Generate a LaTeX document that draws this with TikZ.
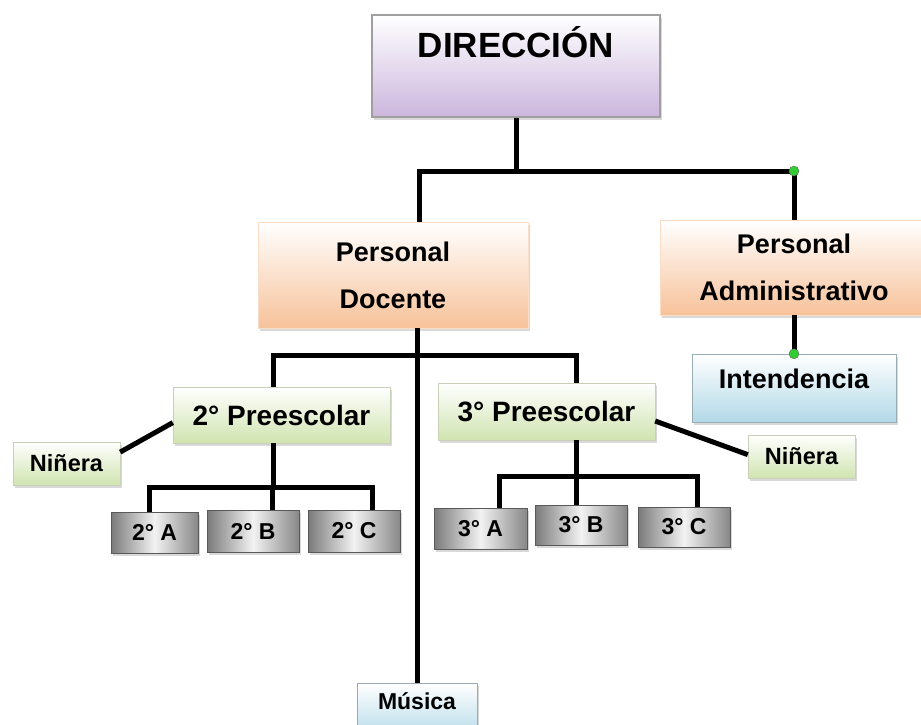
\documentclass[tikz,border=0pt]{standalone}
\usepackage{fontspec}
\setmainfont{Liberation Sans}
\usetikzlibrary{shadows}

\definecolor{lila}{HTML}{CBB6DD}
\definecolor{durazno}{HTML}{F7C29A}
\definecolor{verde}{HTML}{D0E4B0}
\definecolor{celeste}{HTML}{B2D9E8}
\definecolor{gris}{HTML}{7A7A7A}
\definecolor{punto}{HTML}{33CC33}

\tikzset{
    box/.style={rectangle, inner sep=0pt, align=center, font=\bfseries,
        drop shadow={shadow xshift=2pt, shadow yshift=-3pt, opacity=0.3}},
    sz/.style 2 args={minimum width=#1pt, minimum height=#2pt},
    raise/.style={text height=0pt, text depth=#1pt},
    dirbox/.style={box, draw=gray!75, line width=1.2pt, top color=white, bottom color=lila,
        font=\bfseries\fontsize{35}{40}\selectfont},
    perbox/.style={box, draw=durazno!55!white, top color=white, bottom color=durazno,
        font=\bfseries\fontsize{27}{47}\selectfont},
    prebox/.style={box, draw=verde!60!gray!70, top color=white, bottom color=verde,
        font=\bfseries\fontsize{28}{32}\selectfont},
    ninbox/.style={prebox, font=\bfseries\fontsize{23.5}{26}\selectfont},
    bluebox/.style={box, draw=celeste!50!gray, top color=white, bottom color=celeste,
        font=\bfseries\fontsize{27}{30}\selectfont},
    grupo/.style={box, draw=gray!70!black, left color=gris, right color=gris!90, middle color=gray!10,
        font=\bfseries\fontsize{23}{26}\selectfont},
    wire/.style={line width=5pt, black, line join=miter},
    dot/.style={fill=punto, draw=black!60, line width=0.4pt}
}

\begin{document}
\begin{tikzpicture}[x=1pt, y=-1pt]
    \clip (0,0) rectangle (921,724);

    \node [dirbox, sz={288}{102}, raise=17] (dir) at (516,66) {DIRECCIÓN};

    \node [perbox, sz={270}{106}] (doc) at (393,275) {Personal\\Docente};
    \node [perbox, sz={268}{95}]  (adm) at (794,267.5) {Personal\\Administrativo};
    \node [bluebox, sz={204}{68}, raise=0] (int) at (794,388) {Intendencia};

    \node [prebox, sz={217}{56}] (pre2) at (281.5,415) {2° Preescolar};
    \node [prebox, sz={217}{57}] (pre3) at (546.5,411.5) {3° Preescolar};
    \node [ninbox, sz={107}{43}] (nin2a) at (66.5,463.5) {Niñera};
    \node [ninbox, sz={107}{43}] (nin3a) at (801.5,456.5) {Niñera};

    \node [grupo, sz={87}{41}] (a2) at (154.5,532.5) {2° A};
    \node [grupo, sz={92}{42}] (b2) at (253,531) {2° B};
    \node [grupo, sz={92}{42}] (c2) at (354,531) {2° C};
    \node [grupo, sz={93}{41}] (a3) at (480.5,528.5) {3° A};
    \node [grupo, sz={92}{40}] (b3) at (581,525) {3° B};
    \node [grupo, sz={92}{40}] (c3) at (684,527) {3° C};

    \node [bluebox, sz={120}{57}, raise=5, font=\bfseries\fontsize{23}{26}\selectfont] (mus) at (417,711.5) {Música};

    \coordinate (busA) at (419,171);
    \coordinate (dotA) at (794,171);
    \coordinate (busL) at (273,355);
    \coordinate (busR) at (576,355);
    \coordinate (grp2) at (273,487);
    \coordinate (grp3) at (576,476);

    \draw [wire] (dir.south) -- (dir.south |- busA);
    \draw [wire] (busA |- doc.north) -- (busA) -- (dotA) -- (adm.north);
    \draw [wire] (adm.south) -- (int.north);
    \draw [wire] (mus.north |- doc.south) -- (mus.north);
    \draw [wire] (busL |- pre2.north) -- (busL) -- (busR) -- (busR |- pre3.north);
    \draw [wire] (nin2a.12) -- (pre2.184);
    \draw [wire] (pre3.-5) -- (nin3a.178);

    \draw [wire] (grp2 |- pre2.south) -- (grp2);
    \draw [wire] (149,487 |- a2.north) -- (149,487) -- (372,487) -- (372,487 |- c2.north);
    \draw [wire] (272,487) -- (272,487 |- b2.north);

    \draw [wire] (grp3 |- pre3.south) -- (grp3);
    \draw [wire] (499,476 |- a3.north) -- (499,476) -- (697,476) -- (697,476 |- c3.north);
    \draw [wire] (576,476) -- (576,476 |- b3.north);

    \draw [dot] (dotA) circle (5pt);
    \draw [dot] (int.north) circle (5pt);

\end{tikzpicture}
\end{document}
